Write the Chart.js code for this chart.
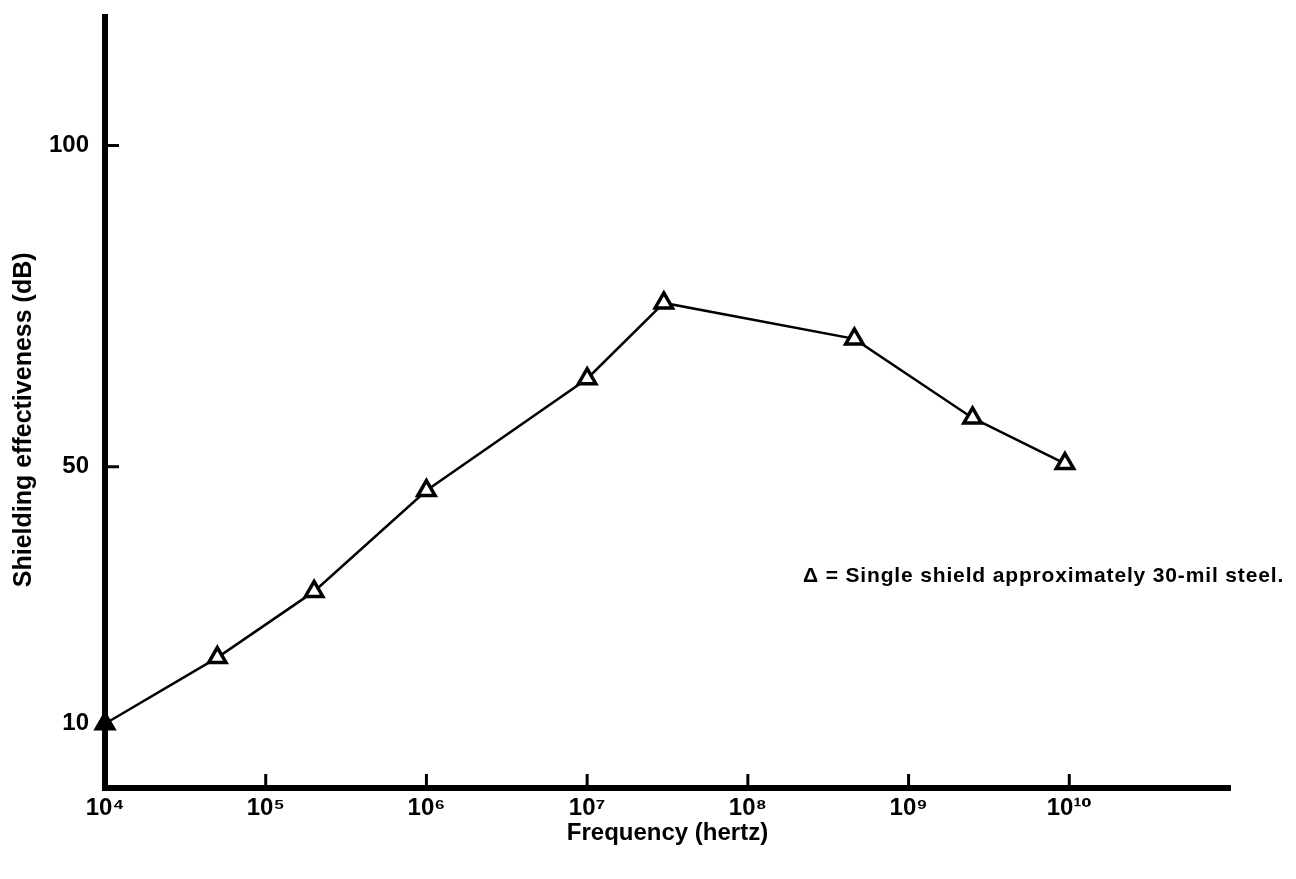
<!DOCTYPE html>
<html>
<head>
<meta charset="utf-8">
<script src="https://cdn.jsdelivr.net/npm/chart.js@4"></script>
<style>
  html, body { margin: 0; padding: 0; background: #fff; }
  #wrap { position: relative; width: 1296px; height: 879px; }
  #note {
    position: absolute; left: 803px; top: 563px;
    font: bold 21px "Liberation Sans", "DejaVu Sans", sans-serif;
    color: #000; white-space: nowrap; letter-spacing: 0.85px;
  }
</style>
</head>
<body>
<div id="wrap">
  <canvas id="shieldChart" width="1296" height="879"></canvas>
  <div id="note">Δ = Single shield approximately 30-mil steel.</div>
</div>
<script>
/* Dades llegides del gràfic */
const frequency = [1e4, 5e4, 2e5, 1e6, 1e7, 3e7, 4.6e8, 2.5e9, 9.4e9]
const shielding = [10, 20.3, 30.6, 46.3, 63.7, 75.5, 69.9, 57.6, 50.5]

const xTicks = [1e4, 1e5, 1e6, 1e7, 1e8, 1e9, 1e10]
const yTicks = [10, 50, 100]

const sup = { '0': '⁰', '1': '¹', '4': '⁴', '5': '⁵', '6': '⁶', '7': '⁷', '8': '⁸', '9': '⁹' }
const powLabel = v => '10' + String(Math.round(Math.log10(v))).split('').map(c => sup[c]).join('')

const font = '"Liberation Sans", "DejaVu Sans", sans-serif'
Chart.defaults.color = '#000'
Chart.defaults.font.family = font
Chart.defaults.font.weight = 'bold'

/* marques de divisió cap a dins */
const innerTicks = {
    id: 'innerTicks',
    afterDraw(chart) {
        const { ctx, chartArea, scales } = chart
        ctx.save()
        ctx.strokeStyle = '#000'
        ctx.lineWidth = 3
        xTicks.slice(1).forEach(v => {
            const px = scales.x.getPixelForValue(v)
            ctx.beginPath()
            ctx.moveTo(px, chartArea.bottom)
            ctx.lineTo(px, chartArea.bottom - 14)
            ctx.stroke()
        })
        ;[50, 100].forEach(v => {
            const py = scales.y.getPixelForValue(v)
            ctx.beginPath()
            ctx.moveTo(chartArea.left, py)
            ctx.lineTo(chartArea.left + 14, py)
            ctx.stroke()
        })
        ctx.restore()
    }
}

const data = {
    datasets: [{
        data: frequency.map((f, i) => ({ x: f, y: shielding[i] })),
        borderColor: '#000',
        borderWidth: 2.5,
        pointStyle: 'triangle',
        pointRadius: 10,
        pointBorderWidth: 3.5,
        pointBorderColor: '#000',
        pointBackgroundColor: frequency.map((f, i) => i === 0 ? '#000' : '#fff'),
        tension: 0,
        clip: false
    }]
}

const options = {
    responsive: false,
    animation: false,
    layout: { padding: { left: 0, top: 17, right: 66, bottom: 0 } },
    plugins: { legend: { display: false }, tooltip: { enabled: false } },
    scales: {
        x: {
            type: 'logarithmic',
            min: 1e4,
            max: 1e11,
            afterBuildTicks: s => { s.ticks = xTicks.map(v => ({ value: v })) },
            afterFit: s => { s.height = 91 },
            grid: { display: false },
            border: { display: true, color: '#000', width: 6 },
            ticks: {
                padding: -2,
                maxRotation: 0,
                autoSkip: false,
                font: { size: 24, weight: 'bold' },
                callback: v => powLabel(v)
            },
            title: {
                display: true,
                text: 'Frequency (hertz)',
                font: { size: 24, weight: 'bold' },
                padding: { top: 31, bottom: 31 }
            }
        },
        y: {
            min: 0,
            max: 120,
            afterBuildTicks: s => { s.ticks = yTicks.map(v => ({ value: v })) },
            afterFit: s => { s.width = 105; s.paddingTop = 0; s.paddingBottom = 0 },
            grid: { display: false },
            border: { display: true, color: '#000', width: 6 },
            ticks: {
                padding: 8,
                font: { size: 24, weight: 'bold' }
            },
            title: {
                display: true,
                text: 'Shielding effectiveness (dB)\u00a0\u00a0\u00a0\u00a0\u00a0',
                font: { size: 25, weight: 'bold' },
                padding: { top: 9, bottom: 9 }
            }
        }
    }
}

new Chart('shieldChart', { type: 'line', data, options, plugins: [innerTicks] })
</script>
</body>
</html>
